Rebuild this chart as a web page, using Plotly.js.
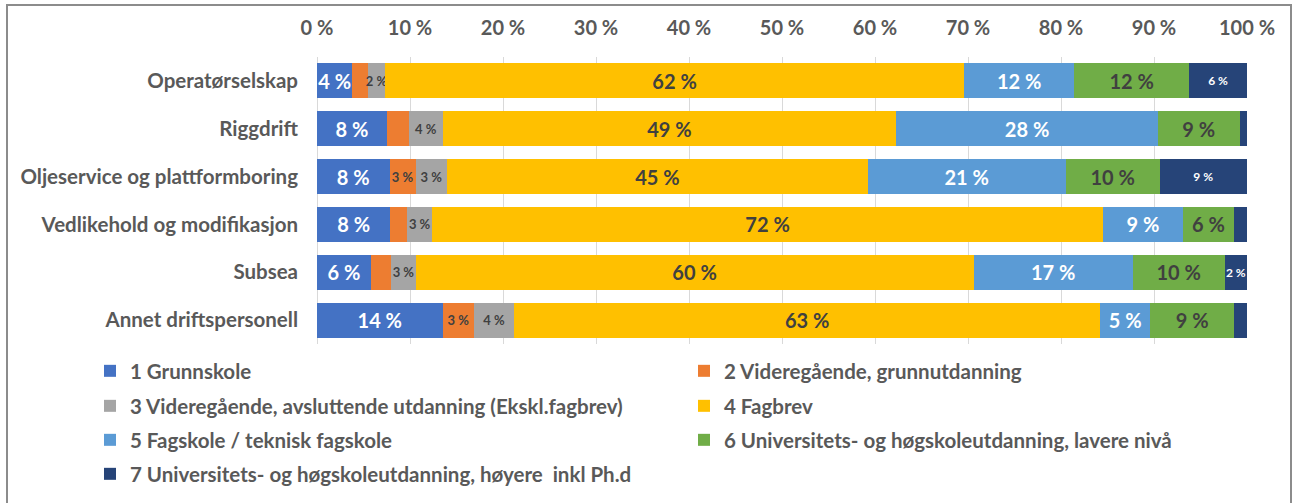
<!DOCTYPE html>
<html>
<head>
<meta charset="utf-8">
<script src="https://cdn.plot.ly/plotly-3.0.1.min.js"></script>
<style>
  html, body { margin: 0; padding: 0; background: #ffffff; }
  #chart { width: 1298px; height: 503px; }
</style>
</head>
<body>
<div id="chart"></div>
<script>
// ---- Data ----
const categories = [
  "Operatørselskap",
  "Riggdrift",
  "Oljeservice og plattformboring",
  "Vedlikehold og modifikasjon",
  "Subsea",
  "Annet driftspersonell"
];

const seriesNames = [
  "1 Grunnskole",
  "2 Videregående, grunnutdanning",
  "3 Videregående, avsluttende utdanning (Ekskl.fagbrev)",
  "4 Fagbrev",
  "5 Fagskole / teknisk fagskole",
  "6 Universitets- og høgskoleutdanning, lavere nivå",
  "7 Universitets- og høgskoleutdanning, høyere  inkl Ph.d"
];

const grunnskole     = [3.8, 7.5, 7.8, 7.9, 5.8, 13.5];
const vgsGrunn       = [1.7, 2.4, 2.8, 1.8, 2.2, 3.4];
const vgsAvsluttende = [1.8, 3.6, 3.4, 2.7, 2.6, 4.3];
const fagbrev        = [62.3, 48.8, 45.2, 72.1, 60.0, 63.0];
const fagskole       = [11.8, 28.1, 21.3, 8.6, 17.1, 5.4];
const uniLavere      = [12.4, 8.8, 10.1, 5.5, 9.9, 9.0];
const uniHoyere      = [6.2, 0.8, 9.4, 1.4, 2.4, 1.4];

// Data labels as shown in the chart ('' = no label shown)
const lab1 = ["4 %", "8 %", "8 %", "8 %", "6 %", "14 %"];
const lab2 = ["", "", "3 %", "", "", "3 %"];
const lab3 = ["2 %", "4 %", "3 %", "3 %", "3 %", "4 %"];
const lab4 = ["62 %", "49 %", "45 %", "72 %", "60 %", "63 %"];
const lab5 = ["12 %", "28 %", "21 %", "9 %", "17 %", "5 %"];
const lab6 = ["12 %", "9 %", "10 %", "6 %", "10 %", "9 %"];
const lab7 = ["6 %", "", "9 %", "", "2 %", ""];

const tickVals = [0, 10, 20, 30, 40, 50, 60, 70, 80, 90, 100];
const tickText = ["0 %", "10 %", "20 %", "30 %", "40 %", "50 %", "60 %", "70 %", "80 %", "90 %", "100 %"];

// ---- Styling ----
const FONT = 'Lato, "Open Sans", "DejaVu Sans", sans-serif';
const DARK = '#404040';
const GREY_TXT = '#595959';
const seriesData = [grunnskole, vgsGrunn, vgsAvsluttende, fagbrev, fagskole, uniLavere, uniHoyere];
const seriesLabels = [lab1, lab2, lab3, lab4, lab5, lab6, lab7];
const colors = ['#4472C4', '#ED7D31', '#A5A5A5', '#FFC000', '#5B9BD5', '#70AD47', '#264478'];
const textColors = ['#ffffff', DARK, DARK, DARK, '#ffffff', DARK, '#ffffff'];
const textSizes = [20, 13, 13, 20, 20, 20, 12];
const legendIds = ['legend', 'legend2', 'legend3', 'legend4', 'legend5', 'legend6', 'legend7'];

const traces = seriesData.map((vals, i) => ({
  type: 'bar',
  orientation: 'h',
  name: seriesNames[i],
  y: categories,
  x: vals,
  text: seriesLabels[i],
  textposition: 'inside',
  insidetextanchor: 'middle',
  constraintext: 'none',
  textangle: 0,
  textfont: { family: FONT, size: textSizes[i], color: textColors[i], weight: 700 },
  marker: { color: colors[i], line: { width: 0 } },
  hoverinfo: 'name+x',
  legend: legendIds[i]
}));

const W = 1298, H = 503;
// legend layout: two columns, four rows (pixel positions of text start / row centre)
const legendColX = [131, 725];
const legendRowY = [371, 406, 440, 474];
function legendCfg(i) {
  const col = i % 2, row = Math.floor(i / 2);
  return {
    orientation: 'v',
    xref: 'container', yref: 'container',
    x: (legendColX[col] - 41) / W, xanchor: 'left',
    y: 1 - legendRowY[row] / H, yanchor: 'middle',
    font: { family: FONT, size: 20.5, color: GREY_TXT, weight: 700 },
    bgcolor: 'rgba(0,0,0,0)',
    borderwidth: 0
  };
}

const layout = {
  width: W, height: H,
  paper_bgcolor: '#ffffff',
  plot_bgcolor: '#ffffff',
  barmode: 'stack',
  bargap: 0.27,
  margin: { l: 317, r: 51, t: 57, b: 159, pad: 0, autoexpand: false },
  font: { family: FONT, color: GREY_TXT },
  xaxis: {
    side: 'top',
    range: [0, 100],
    tickvals: tickVals,
    ticktext: tickText,
    showgrid: true,
    gridcolor: '#d9d9d9',
    gridwidth: 1,
    zeroline: true,
    zerolinecolor: '#d9d9d9',
    zerolinewidth: 1,
    showline: false,
    ticks: '',
    ticklabelstandoff: 17,
    tickfont: { family: FONT, size: 20, color: GREY_TXT, weight: 700 },
    fixedrange: true
  },
  yaxis: {
    type: 'category',
    autorange: 'reversed',
    showgrid: false,
    zeroline: false,
    showline: false,
    ticks: '',
    ticklabelstandoff: 18,
    tickfont: { family: FONT, size: 20.5, color: GREY_TXT, weight: 700 },
    fixedrange: true
  },
  showlegend: true,
  shapes: [{
    type: 'rect',
    xref: 'paper', yref: 'paper',
    x0: (7 - 317) / 930, x1: (1291 - 317) / 930,
    y0: (344 - 520) / 287, y1: 1 + (57 - 5) / 287,
    line: { color: '#8c8c8c', width: 2 },
    fillcolor: 'rgba(0,0,0,0)',
    layer: 'below'
  }]
};
legendIds.forEach((id, i) => { layout[id] = legendCfg(i); });

Plotly.newPlot('chart', traces, layout, { displayModeBar: false, staticPlot: true });
</script>
</body>
</html>
